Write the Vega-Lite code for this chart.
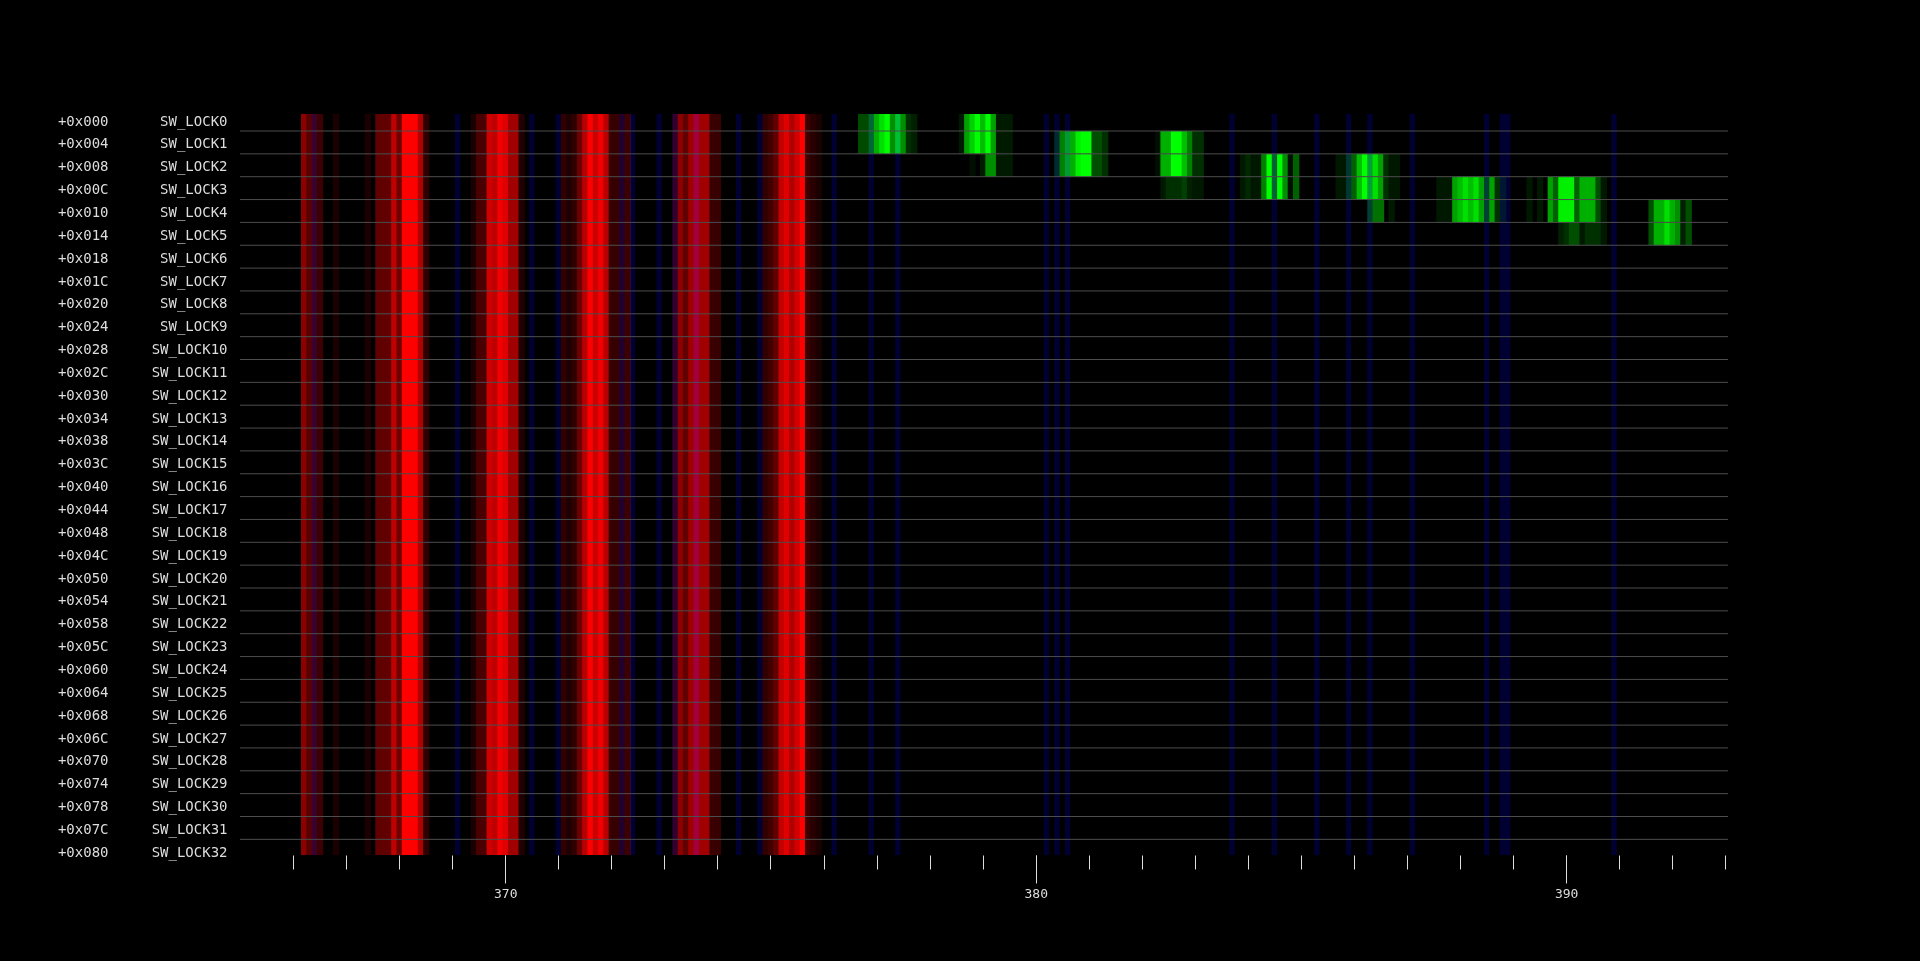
{
  "$schema": "https://vega.github.io/schema/vega-lite/v6.json",
  "autosize": "none",
  "padding": {"left": 240, "top": 114, "right": 192, "bottom": 106},
  "width": 1488,
  "height": 741,
  "background": "#000000",
  "config": {"view": {"stroke": null}},
  "datasets": {
    "lanes": [
      {"i":0,"addr":"+0x000","name":"SW_LOCK0"},{"i":1,"addr":"+0x004","name":"SW_LOCK1"},{"i":2,"addr":"+0x008","name":"SW_LOCK2"},{"i":3,"addr":"+0x00C","name":"SW_LOCK3"},
      {"i":4,"addr":"+0x010","name":"SW_LOCK4"},{"i":5,"addr":"+0x014","name":"SW_LOCK5"},{"i":6,"addr":"+0x018","name":"SW_LOCK6"},{"i":7,"addr":"+0x01C","name":"SW_LOCK7"},
      {"i":8,"addr":"+0x020","name":"SW_LOCK8"},{"i":9,"addr":"+0x024","name":"SW_LOCK9"},{"i":10,"addr":"+0x028","name":"SW_LOCK10"},{"i":11,"addr":"+0x02C","name":"SW_LOCK11"},
      {"i":12,"addr":"+0x030","name":"SW_LOCK12"},{"i":13,"addr":"+0x034","name":"SW_LOCK13"},{"i":14,"addr":"+0x038","name":"SW_LOCK14"},{"i":15,"addr":"+0x03C","name":"SW_LOCK15"},
      {"i":16,"addr":"+0x040","name":"SW_LOCK16"},{"i":17,"addr":"+0x044","name":"SW_LOCK17"},{"i":18,"addr":"+0x048","name":"SW_LOCK18"},{"i":19,"addr":"+0x04C","name":"SW_LOCK19"},
      {"i":20,"addr":"+0x050","name":"SW_LOCK20"},{"i":21,"addr":"+0x054","name":"SW_LOCK21"},{"i":22,"addr":"+0x058","name":"SW_LOCK22"},{"i":23,"addr":"+0x05C","name":"SW_LOCK23"},
      {"i":24,"addr":"+0x060","name":"SW_LOCK24"},{"i":25,"addr":"+0x064","name":"SW_LOCK25"},{"i":26,"addr":"+0x068","name":"SW_LOCK26"},{"i":27,"addr":"+0x06C","name":"SW_LOCK27"},
      {"i":28,"addr":"+0x070","name":"SW_LOCK28"},{"i":29,"addr":"+0x074","name":"SW_LOCK29"},{"i":30,"addr":"+0x078","name":"SW_LOCK30"},{"i":31,"addr":"+0x07C","name":"SW_LOCK31"},
      {"i":32,"addr":"+0x080","name":"SW_LOCK32"}
    ],
    "blue": [
      {"t0":366.35,"t1":366.45,"v":0.19},{"t0":369.05,"t1":369.15,"v":0.2},{"t0":370.45,"t1":370.55,"v":0.2},{"t0":370.95,"t1":371.05,"v":0.2},
      {"t0":372.15,"t1":372.25,"v":0.19},{"t0":372.35,"t1":372.45,"v":0.2},{"t0":372.85,"t1":372.95,"v":0.2},{"t0":373.15,"t1":373.25,"v":0.19},
      {"t0":373.55,"t1":373.65,"v":0.25},{"t0":374.35,"t1":374.45,"v":0.2},{"t0":374.75,"t1":374.85,"v":0.2},{"t0":376.15,"t1":376.25,"v":0.2},
      {"t0":376.85,"t1":376.95,"v":0.2},{"t0":377.35,"t1":377.45,"v":0.2},{"t0":380.15,"t1":380.25,"v":0.2},{"t0":380.35,"t1":380.45,"v":0.2},
      {"t0":380.55,"t1":380.65,"v":0.2},{"t0":383.65,"t1":383.75,"v":0.2},{"t0":384.45,"t1":384.55,"v":0.2},{"t0":385.25,"t1":385.35,"v":0.2},
      {"t0":385.85,"t1":385.95,"v":0.2},{"t0":386.25,"t1":386.35,"v":0.2},{"t0":387.05,"t1":387.15,"v":0.2},{"t0":388.45,"t1":388.55,"v":0.2},
      {"t0":388.75,"t1":388.95,"v":0.2},{"t0":390.85,"t1":390.95,"v":0.2}
    ],
    "red": [
      {"t0":366.15,"t1":366.25,"v":0.55},{"t0":366.25,"t1":366.35,"v":0.35},{"t0":366.35,"t1":366.45,"v":0.23},{"t0":366.45,"t1":366.55,"v":0.23},
      {"t0":366.75,"t1":366.85,"v":0.1},{"t0":367.35,"t1":367.45,"v":0.1},{"t0":367.55,"t1":367.85,"v":0.38},{"t0":367.85,"t1":367.95,"v":0.75},
      {"t0":367.95,"t1":368.05,"v":0.44},{"t0":368.05,"t1":368.35,"v":1},{"t0":368.35,"t1":368.45,"v":0.69},{"t0":368.45,"t1":368.55,"v":0.19},
      {"t0":369.35,"t1":369.45,"v":0.1},{"t0":369.45,"t1":369.65,"v":0.29},{"t0":369.65,"t1":369.75,"v":0.82},{"t0":369.75,"t1":369.85,"v":0.75},
      {"t0":369.85,"t1":369.95,"v":0.94},{"t0":369.95,"t1":370.05,"v":0.88},{"t0":370.05,"t1":370.25,"v":0.63},{"t0":370.25,"t1":370.35,"v":0.125},
      {"t0":371.05,"t1":371.15,"v":0.19},{"t0":371.15,"t1":371.25,"v":0.12},{"t0":371.25,"t1":371.35,"v":0.19},{"t0":371.35,"t1":371.45,"v":0.42},
      {"t0":371.45,"t1":371.55,"v":0.72},{"t0":371.55,"t1":371.65,"v":1},{"t0":371.65,"t1":371.75,"v":0.8},{"t0":371.75,"t1":371.85,"v":0.95},
      {"t0":371.85,"t1":371.95,"v":0.72},{"t0":371.95,"t1":372.15,"v":0.21},{"t0":372.15,"t1":372.25,"v":0.13},{"t0":372.25,"t1":372.35,"v":0.23},
      {"t0":373.15,"t1":373.25,"v":0.19},{"t0":373.25,"t1":373.35,"v":0.55},{"t0":373.35,"t1":373.45,"v":0.38},{"t0":373.45,"t1":373.55,"v":0.63},
      {"t0":373.55,"t1":373.65,"v":0.63},{"t0":373.65,"t1":373.85,"v":0.63},{"t0":373.85,"t1":374.05,"v":0.22},
      {"t0":374.85,"t1":374.95,"v":0.19},{"t0":374.95,"t1":375.05,"v":0.25},{"t0":375.05,"t1":375.15,"v":0.38},{"t0":375.15,"t1":375.25,"v":0.76},
      {"t0":375.25,"t1":375.35,"v":0.88},{"t0":375.35,"t1":375.45,"v":0.69},{"t0":375.45,"t1":375.55,"v":0.82},{"t0":375.55,"t1":375.65,"v":1},
      {"t0":375.65,"t1":375.75,"v":0.23},{"t0":375.75,"t1":375.85,"v":0.16},{"t0":375.85,"t1":375.95,"v":0.1}
    ],
    "green": [
      {"lock":"SW_LOCK0","t0":376.65,"t1":376.85,"v":0.29},{"lock":"SW_LOCK0","t0":376.85,"t1":376.95,"v":0.4},{"lock":"SW_LOCK0","t0":376.95,"t1":377.05,"v":0.69},{"lock":"SW_LOCK0","t0":377.05,"t1":377.15,"v":0.88},{"lock":"SW_LOCK0","t0":377.15,"t1":377.25,"v":1},{"lock":"SW_LOCK0","t0":377.25,"t1":377.35,"v":0.56},{"lock":"SW_LOCK0","t0":377.35,"t1":377.45,"v":0.75},{"lock":"SW_LOCK0","t0":377.45,"t1":377.55,"v":0.56},{"lock":"SW_LOCK0","t0":377.55,"t1":377.65,"v":0.19},{"lock":"SW_LOCK0","t0":377.65,"t1":377.75,"v":0.125},
      {"lock":"SW_LOCK1","t0":376.65,"t1":376.85,"v":0.29},{"lock":"SW_LOCK1","t0":376.85,"t1":376.95,"v":0.4},{"lock":"SW_LOCK1","t0":376.95,"t1":377.05,"v":0.69},{"lock":"SW_LOCK1","t0":377.05,"t1":377.15,"v":0.88},{"lock":"SW_LOCK1","t0":377.15,"t1":377.25,"v":1},{"lock":"SW_LOCK1","t0":377.25,"t1":377.35,"v":0.56},{"lock":"SW_LOCK1","t0":377.35,"t1":377.45,"v":0.75},{"lock":"SW_LOCK1","t0":377.45,"t1":377.55,"v":0.56},{"lock":"SW_LOCK1","t0":377.55,"t1":377.65,"v":0.19},{"lock":"SW_LOCK1","t0":377.65,"t1":377.75,"v":0.125},
      {"lock":"SW_LOCK0","t0":378.55,"t1":378.65,"v":0.1},{"lock":"SW_LOCK0","t0":378.65,"t1":378.75,"v":0.63},{"lock":"SW_LOCK0","t0":378.75,"t1":378.85,"v":0.82},{"lock":"SW_LOCK0","t0":378.85,"t1":378.95,"v":1},{"lock":"SW_LOCK0","t0":378.95,"t1":379.05,"v":0.75},{"lock":"SW_LOCK0","t0":379.05,"t1":379.15,"v":1},{"lock":"SW_LOCK0","t0":379.15,"t1":379.25,"v":0.63},{"lock":"SW_LOCK0","t0":379.25,"t1":379.55,"v":0.1},
      {"lock":"SW_LOCK1","t0":378.55,"t1":378.65,"v":0.1},{"lock":"SW_LOCK1","t0":378.65,"t1":378.75,"v":0.63},{"lock":"SW_LOCK1","t0":378.75,"t1":378.85,"v":0.82},{"lock":"SW_LOCK1","t0":378.85,"t1":378.95,"v":1},{"lock":"SW_LOCK1","t0":378.95,"t1":379.05,"v":0.75},{"lock":"SW_LOCK1","t0":379.05,"t1":379.15,"v":1},{"lock":"SW_LOCK1","t0":379.15,"t1":379.25,"v":0.63},{"lock":"SW_LOCK1","t0":379.25,"t1":379.55,"v":0.1},
      {"lock":"SW_LOCK2","t0":378.75,"t1":378.85,"v":0.06},{"lock":"SW_LOCK2","t0":378.95,"t1":379.05,"v":0.1},{"lock":"SW_LOCK2","t0":379.05,"t1":379.25,"v":0.56},{"lock":"SW_LOCK2","t0":379.25,"t1":379.55,"v":0.1},
      {"lock":"SW_LOCK1","t0":380.35,"t1":380.45,"v":0.17},{"lock":"SW_LOCK1","t0":380.45,"t1":380.55,"v":0.5},{"lock":"SW_LOCK1","t0":380.55,"t1":380.65,"v":0.6},{"lock":"SW_LOCK1","t0":380.65,"t1":380.75,"v":0.69},{"lock":"SW_LOCK1","t0":380.75,"t1":380.85,"v":0.94},{"lock":"SW_LOCK1","t0":380.85,"t1":381.05,"v":1},{"lock":"SW_LOCK1","t0":381.05,"t1":381.25,"v":0.31},{"lock":"SW_LOCK1","t0":381.25,"t1":381.35,"v":0.19},
      {"lock":"SW_LOCK2","t0":380.35,"t1":380.45,"v":0.17},{"lock":"SW_LOCK2","t0":380.45,"t1":380.55,"v":0.5},{"lock":"SW_LOCK2","t0":380.55,"t1":380.65,"v":0.6},{"lock":"SW_LOCK2","t0":380.65,"t1":380.75,"v":0.69},{"lock":"SW_LOCK2","t0":380.75,"t1":380.85,"v":0.94},{"lock":"SW_LOCK2","t0":380.85,"t1":381.05,"v":1},{"lock":"SW_LOCK2","t0":381.05,"t1":381.25,"v":0.31},{"lock":"SW_LOCK2","t0":381.25,"t1":381.35,"v":0.19},
      {"lock":"SW_LOCK1","t0":382.25,"t1":382.35,"v":0.06},{"lock":"SW_LOCK1","t0":382.35,"t1":382.55,"v":0.69},{"lock":"SW_LOCK1","t0":382.55,"t1":382.75,"v":1},{"lock":"SW_LOCK1","t0":382.75,"t1":382.85,"v":0.75},{"lock":"SW_LOCK1","t0":382.85,"t1":382.95,"v":0.5},{"lock":"SW_LOCK1","t0":382.95,"t1":383.15,"v":0.19},
      {"lock":"SW_LOCK2","t0":382.25,"t1":382.35,"v":0.06},{"lock":"SW_LOCK2","t0":382.35,"t1":382.55,"v":0.69},{"lock":"SW_LOCK2","t0":382.55,"t1":382.75,"v":1},{"lock":"SW_LOCK2","t0":382.75,"t1":382.85,"v":0.75},{"lock":"SW_LOCK2","t0":382.85,"t1":382.95,"v":0.5},{"lock":"SW_LOCK2","t0":382.95,"t1":383.15,"v":0.19},
      {"lock":"SW_LOCK3","t0":382.35,"t1":382.45,"v":0.09},{"lock":"SW_LOCK3","t0":382.45,"t1":382.75,"v":0.19},{"lock":"SW_LOCK3","t0":382.75,"t1":382.85,"v":0.25},{"lock":"SW_LOCK3","t0":382.85,"t1":382.95,"v":0.125},{"lock":"SW_LOCK3","t0":382.95,"t1":383.15,"v":0.09},
      {"lock":"SW_LOCK2","t0":383.85,"t1":383.95,"v":0.09},{"lock":"SW_LOCK2","t0":383.95,"t1":384.05,"v":0.16},{"lock":"SW_LOCK2","t0":384.05,"t1":384.25,"v":0.09},{"lock":"SW_LOCK2","t0":384.25,"t1":384.35,"v":0.5},{"lock":"SW_LOCK2","t0":384.35,"t1":384.45,"v":1},{"lock":"SW_LOCK2","t0":384.45,"t1":384.55,"v":0.38},{"lock":"SW_LOCK2","t0":384.55,"t1":384.65,"v":1},{"lock":"SW_LOCK2","t0":384.65,"t1":384.75,"v":0.56},{"lock":"SW_LOCK2","t0":384.75,"t1":384.85,"v":0.06},{"lock":"SW_LOCK2","t0":384.85,"t1":384.95,"v":0.38},
      {"lock":"SW_LOCK3","t0":383.85,"t1":383.95,"v":0.09},{"lock":"SW_LOCK3","t0":383.95,"t1":384.05,"v":0.16},{"lock":"SW_LOCK3","t0":384.05,"t1":384.25,"v":0.09},{"lock":"SW_LOCK3","t0":384.25,"t1":384.35,"v":0.5},{"lock":"SW_LOCK3","t0":384.35,"t1":384.45,"v":1},{"lock":"SW_LOCK3","t0":384.45,"t1":384.55,"v":0.38},{"lock":"SW_LOCK3","t0":384.55,"t1":384.65,"v":1},{"lock":"SW_LOCK3","t0":384.65,"t1":384.75,"v":0.56},{"lock":"SW_LOCK3","t0":384.75,"t1":384.85,"v":0.06},{"lock":"SW_LOCK3","t0":384.85,"t1":384.95,"v":0.38},
      {"lock":"SW_LOCK2","t0":385.65,"t1":385.85,"v":0.09},{"lock":"SW_LOCK2","t0":385.85,"t1":385.95,"v":0.22},{"lock":"SW_LOCK2","t0":385.95,"t1":386.05,"v":0.38},{"lock":"SW_LOCK2","t0":386.05,"t1":386.15,"v":0.75},{"lock":"SW_LOCK2","t0":386.15,"t1":386.25,"v":1},{"lock":"SW_LOCK2","t0":386.25,"t1":386.35,"v":0.63},{"lock":"SW_LOCK2","t0":386.35,"t1":386.45,"v":0.88},{"lock":"SW_LOCK2","t0":386.45,"t1":386.55,"v":0.63},{"lock":"SW_LOCK2","t0":386.55,"t1":386.65,"v":0.19},{"lock":"SW_LOCK2","t0":386.65,"t1":386.85,"v":0.09},
      {"lock":"SW_LOCK3","t0":385.65,"t1":385.85,"v":0.09},{"lock":"SW_LOCK3","t0":385.85,"t1":385.95,"v":0.22},{"lock":"SW_LOCK3","t0":385.95,"t1":386.05,"v":0.38},{"lock":"SW_LOCK3","t0":386.05,"t1":386.15,"v":0.75},{"lock":"SW_LOCK3","t0":386.15,"t1":386.25,"v":1},{"lock":"SW_LOCK3","t0":386.25,"t1":386.35,"v":0.63},{"lock":"SW_LOCK3","t0":386.35,"t1":386.45,"v":0.88},{"lock":"SW_LOCK3","t0":386.45,"t1":386.55,"v":0.63},{"lock":"SW_LOCK3","t0":386.55,"t1":386.65,"v":0.19},{"lock":"SW_LOCK3","t0":386.65,"t1":386.85,"v":0.09},
      {"lock":"SW_LOCK4","t0":386.25,"t1":386.35,"v":0.25},{"lock":"SW_LOCK4","t0":386.35,"t1":386.55,"v":0.44},{"lock":"SW_LOCK4","t0":386.65,"t1":386.75,"v":0.1},
      {"lock":"SW_LOCK3","t0":387.55,"t1":387.85,"v":0.09},{"lock":"SW_LOCK3","t0":387.85,"t1":387.95,"v":0.63},{"lock":"SW_LOCK3","t0":387.95,"t1":388.05,"v":0.75},{"lock":"SW_LOCK3","t0":388.05,"t1":388.15,"v":0.88},{"lock":"SW_LOCK3","t0":388.15,"t1":388.25,"v":0.75},{"lock":"SW_LOCK3","t0":388.25,"t1":388.35,"v":0.88},{"lock":"SW_LOCK3","t0":388.35,"t1":388.45,"v":0.63},{"lock":"SW_LOCK3","t0":388.45,"t1":388.55,"v":0.25},{"lock":"SW_LOCK3","t0":388.55,"t1":388.65,"v":0.63},{"lock":"SW_LOCK3","t0":388.65,"t1":388.75,"v":0.19},{"lock":"SW_LOCK3","t0":388.75,"t1":388.85,"v":0.09},
      {"lock":"SW_LOCK4","t0":387.55,"t1":387.85,"v":0.09},{"lock":"SW_LOCK4","t0":387.85,"t1":387.95,"v":0.63},{"lock":"SW_LOCK4","t0":387.95,"t1":388.05,"v":0.75},{"lock":"SW_LOCK4","t0":388.05,"t1":388.15,"v":0.88},{"lock":"SW_LOCK4","t0":388.15,"t1":388.25,"v":0.75},{"lock":"SW_LOCK4","t0":388.25,"t1":388.35,"v":0.88},{"lock":"SW_LOCK4","t0":388.35,"t1":388.45,"v":0.63},{"lock":"SW_LOCK4","t0":388.45,"t1":388.55,"v":0.25},{"lock":"SW_LOCK4","t0":388.55,"t1":388.65,"v":0.63},{"lock":"SW_LOCK4","t0":388.65,"t1":388.75,"v":0.19},{"lock":"SW_LOCK4","t0":388.75,"t1":388.85,"v":0.09},
      {"lock":"SW_LOCK3","t0":389.25,"t1":389.35,"v":0.09},{"lock":"SW_LOCK3","t0":389.45,"t1":389.55,"v":0.09},{"lock":"SW_LOCK3","t0":389.65,"t1":389.75,"v":0.63},{"lock":"SW_LOCK3","t0":389.75,"t1":389.85,"v":0.38},{"lock":"SW_LOCK3","t0":389.85,"t1":390.15,"v":0.94},{"lock":"SW_LOCK3","t0":390.15,"t1":390.25,"v":0.38},{"lock":"SW_LOCK3","t0":390.25,"t1":390.55,"v":0.69},{"lock":"SW_LOCK3","t0":390.55,"t1":390.65,"v":0.31},{"lock":"SW_LOCK3","t0":390.65,"t1":390.75,"v":0.09},
      {"lock":"SW_LOCK4","t0":389.25,"t1":389.35,"v":0.09},{"lock":"SW_LOCK4","t0":389.45,"t1":389.55,"v":0.09},{"lock":"SW_LOCK4","t0":389.65,"t1":389.75,"v":0.63},{"lock":"SW_LOCK4","t0":389.75,"t1":389.85,"v":0.38},{"lock":"SW_LOCK4","t0":389.85,"t1":390.15,"v":0.94},{"lock":"SW_LOCK4","t0":390.15,"t1":390.25,"v":0.38},{"lock":"SW_LOCK4","t0":390.25,"t1":390.55,"v":0.69},{"lock":"SW_LOCK4","t0":390.55,"t1":390.65,"v":0.31},{"lock":"SW_LOCK4","t0":390.65,"t1":390.75,"v":0.09},
      {"lock":"SW_LOCK5","t0":389.85,"t1":389.95,"v":0.125},{"lock":"SW_LOCK5","t0":389.95,"t1":390.05,"v":0.19},{"lock":"SW_LOCK5","t0":390.05,"t1":390.25,"v":0.31},{"lock":"SW_LOCK5","t0":390.25,"t1":390.35,"v":0.09},{"lock":"SW_LOCK5","t0":390.35,"t1":390.65,"v":0.19},{"lock":"SW_LOCK5","t0":390.65,"t1":390.75,"v":0.09},
      {"lock":"SW_LOCK4","t0":391.55,"t1":391.65,"v":0.31},{"lock":"SW_LOCK4","t0":391.65,"t1":391.85,"v":0.69},{"lock":"SW_LOCK4","t0":391.85,"t1":391.95,"v":0.88},{"lock":"SW_LOCK4","t0":391.95,"t1":392.05,"v":0.69},{"lock":"SW_LOCK4","t0":392.05,"t1":392.15,"v":0.56},{"lock":"SW_LOCK4","t0":392.15,"t1":392.25,"v":0.125},{"lock":"SW_LOCK4","t0":392.25,"t1":392.35,"v":0.31},
      {"lock":"SW_LOCK5","t0":391.55,"t1":391.65,"v":0.31},{"lock":"SW_LOCK5","t0":391.65,"t1":391.85,"v":0.69},{"lock":"SW_LOCK5","t0":391.85,"t1":391.95,"v":0.88},{"lock":"SW_LOCK5","t0":391.95,"t1":392.05,"v":0.69},{"lock":"SW_LOCK5","t0":392.05,"t1":392.15,"v":0.56},{"lock":"SW_LOCK5","t0":392.15,"t1":392.25,"v":0.125},{"lock":"SW_LOCK5","t0":392.25,"t1":392.35,"v":0.31}
    ]
  },
  "resolve": {"scale": {"y": "independent"}, "axis": {"x": "independent", "y": "independent"}},
  "layer": [
    {
      "data": {"name": "red"},
      "mark": {"type": "rect", "x2Offset": 1},
      "encoding": {
        "x": {"field": "t0", "type": "quantitative", "scale": {"domain": [365, 393.05], "nice": false, "zero": false},
              "axis": {"orient": "bottom", "values": [370, 380, 390], "format": "d", "tickSize": 28, "tickColor": "#dddddd", "tickWidth": 1,
                       "labelPadding": 4, "labelFont": "DejaVu Sans Mono", "labelFontSize": 13, "labelColor": "#dddddd",
                       "domain": false, "grid": false, "title": null}},
        "x2": {"field": "t1"},
        "color": {"field": "v", "type": "quantitative", "legend": null,
                  "scale": {"domain": [0, 1], "range": ["#000000", "#ff0000"], "interpolate": "rgb"}}
      }
    },
    {
      "data": {"name": "green"},
      "mark": {"type": "rect", "x2Offset": 1, "clip": true},
      "encoding": {
        "x": {"field": "t0", "type": "quantitative", "scale": {"domain": [365, 393.05], "nice": false, "zero": false}, "axis": null},
        "x2": {"field": "t1"},
        "y": {"field": "lock", "type": "nominal",
              "scale": {"type": "band", "paddingInner": 0, "paddingOuter": 0, "range": [-5.85, 748.2],
                        "domain": ["SW_LOCK0","SW_LOCK1","SW_LOCK2","SW_LOCK3","SW_LOCK4","SW_LOCK5","SW_LOCK6","SW_LOCK7","SW_LOCK8","SW_LOCK9","SW_LOCK10","SW_LOCK11","SW_LOCK12","SW_LOCK13","SW_LOCK14","SW_LOCK15","SW_LOCK16","SW_LOCK17","SW_LOCK18","SW_LOCK19","SW_LOCK20","SW_LOCK21","SW_LOCK22","SW_LOCK23","SW_LOCK24","SW_LOCK25","SW_LOCK26","SW_LOCK27","SW_LOCK28","SW_LOCK29","SW_LOCK30","SW_LOCK31","SW_LOCK32"]},
              "axis": {"orient": "left", "ticks": false, "tickSize": 0, "domain": false, "grid": false, "title": null,
                       "labelPadding": 13, "labelOffset": 2, "labelFont": "DejaVu Sans Mono", "labelFontSize": 14, "labelColor": "#dddddd"}},
        "fill": {"field": "v", "type": "quantitative", "legend": null,
                 "scale": {"domain": [0, 1], "range": ["#000000", "#00ff00"], "interpolate": "rgb"}}
      }
    },
    {
      "data": {"name": "blue"},
      "mark": {"type": "rect", "color": "#0000ff", "blend": "screen"},
      "encoding": {
        "x": {"field": "t0", "type": "quantitative", "scale": {"domain": [365, 393.05], "nice": false, "zero": false},
              "axis": {"orient": "bottom", "values": [366,367,368,369,370,371,372,373,374,375,376,377,378,379,380,381,382,383,384,385,386,387,388,389,390,391,392,393],
                       "tickSize": 14, "tickColor": "#dddddd", "tickWidth": 1, "labels": false, "domain": false, "grid": false, "title": null}},
        "x2": {"field": "t1"},
        "opacity": {"field": "v", "type": "quantitative", "scale": null}
      }
    },
    {
      "data": {"name": "lanes"},
      "mark": {"type": "rule", "color": "#4d4d4d", "strokeWidth": 1},
      "encoding": {
        "y": {"field": "addr", "type": "nominal", "bandPosition": 1,
              "scale": {"type": "band", "paddingInner": 0, "paddingOuter": 0, "range": [-5.85, 748.2]},
              "axis": {"orient": "left", "offset": 120, "ticks": false, "tickSize": 0, "domain": false, "grid": false, "title": null,
                       "labelPadding": 12, "labelOffset": 2, "labelFont": "DejaVu Sans Mono", "labelFontSize": 14, "labelColor": "#dddddd"}},
        "strokeOpacity": {"condition": {"test": "datum.i === 32", "value": 0}, "value": 1}
      }
    }
  ]
}
